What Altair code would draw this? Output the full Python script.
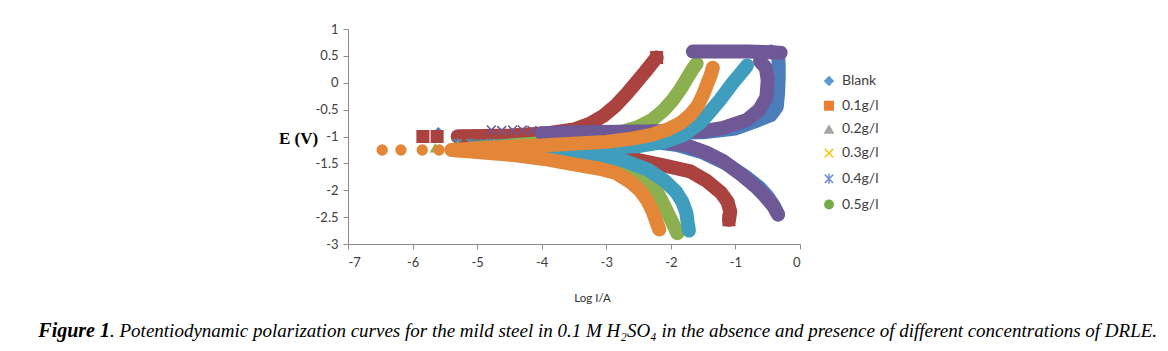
import altair as alt
import pandas as pd

# ---------------- data ----------------
LABELS = ["Blank", "0.1g/l", "0.2g/l", "0.3g/l", "0.4g/l", "0.5g/l"]
PLOT_COLORS = ["#4A7DB9", "#AA423F", "#8CB04F", "#6E5895", "#3F9EBE", "#E38638"]
LEG_COLORS = ["#5B9BD5", "#ED7D31", "#A5A5A5", "#FFC000", "#6F8FD8", "#70AD47"]

# Blank
BLANK_X = [-0.34, -0.4, -0.5, -0.62, -0.85, -1.15, -1.5, -1.9, -2.5, -3.2, -3.9, -4.6, -5.3,
           -4.6, -3.8, -3.0, -2.2, -1.5, -1.0, -0.7, -0.45, -0.36, -0.34, -0.33, -0.33, -0.34, -0.45]
BLANK_E = [-2.45, -2.3, -2.12, -1.96, -1.74, -1.5, -1.3, -1.16, -1.06, -1.01, -1.0, -1.0, -1.0,
           -1.0, -0.98, -0.95, -0.93, -0.92, -0.85, -0.72, -0.6, -0.45, -0.2, 0.1, 0.35, 0.52, 0.58]
BLANK_ISO_X = [-5.6]
BLANK_ISO_E = [-0.92]

# 0.1 g/l
C01_X = [-1.1, -1.08, -1.12, -1.22, -1.45, -1.7, -2.1, -2.5, -2.9, -3.2, -3.5, -3.9, -4.5, -5.3,
         -4.5, -3.9, -3.5, -3.25, -3.05, -2.85, -2.68, -2.52, -2.4, -2.3, -2.22]
C01_E = [-2.55, -2.4, -2.22, -2.05, -1.82, -1.65, -1.54, -1.44, -1.32, -1.2, -1.1, -1.03, -1.0, -1.0,
         -0.98, -0.94, -0.87, -0.76, -0.62, -0.42, -0.2, 0.03, 0.2, 0.35, 0.47]
C01_ISO_X = [-5.84, -5.62]
C01_ISO_E = [-1.0, -1.0]

# 0.2 g/l
C02_X = [-1.9, -1.97, -2.05, -2.13, -2.22, -2.35, -2.55, -2.85, -3.2, -3.7, -4.3, -5.0,
         -4.3, -3.7, -3.2, -2.8, -2.5, -2.3, -2.12, -1.97, -1.85, -1.75, -1.67, -1.6]
C02_E = [-2.8, -2.62, -2.42, -2.22, -2.02, -1.85, -1.7, -1.55, -1.42, -1.33, -1.27, -1.21,
         -1.15, -1.1, -1.03, -0.93, -0.82, -0.7, -0.52, -0.32, -0.12, 0.08, 0.24, 0.36]
C02_ISO_X = [-5.65]
C02_ISO_E = [-1.21]

# 0.3 g/l
C03_X = [-0.34, -0.41, -0.55, -0.68, -0.9, -1.2, -1.45, -1.75, -2.2, -2.8, -3.5, -4.0,
         -3.5, -2.8, -2.2, -1.8, -1.5, -1.19, -0.82, -0.63, -0.52, -0.5, -0.53, -0.62]
C03_E = [-2.45, -2.3, -2.1, -1.94, -1.72, -1.45, -1.3, -1.17, -1.08, -1.02, -0.97, -0.94,
         -0.92, -0.91, -0.9, -0.9, -0.9, -0.84, -0.69, -0.5, -0.27, 0.05, 0.28, 0.4]
C03_TOP_X = [-1.66, -1.4, -1.1, -0.8, -0.55, -0.3]
C03_TOP_E = [0.58, 0.58, 0.58, 0.58, 0.57, 0.56]
C03_ISO_X = [-4.78, -4.62, -4.45, -4.3, -4.15]
C03_ISO_E = [-0.88, -0.89, -0.88, -0.88, -0.89]

# 0.4 g/l
C04_X = [-1.72, -1.74, -1.76, -1.82, -1.92, -2.1, -2.35, -2.7, -3.1, -3.6, -4.3,
         -3.6, -3.0, -2.5, -2.1, -1.8, -1.55, -1.4, -1.24, -1.04, -0.9, -0.82]
C04_E = [-2.75, -2.6, -2.42, -2.22, -2.03, -1.82, -1.62, -1.46, -1.34, -1.27, -1.2,
         -1.2, -1.2, -1.18, -1.1, -0.97, -0.75, -0.55, -0.32, 0.0, 0.2, 0.32]
C04_ISO_X = [-5.3, -5.1, -4.95, -4.8, -4.65, -4.5]
C04_ISO_E = [-1.12, -1.12, -1.13, -1.12, -1.13, -1.13]

# 0.5 g/l
C05_X = [-2.18, -2.22, -2.28, -2.36, -2.48, -2.62, -2.85, -3.1, -3.5, -3.9, -4.4, -4.9, -5.4,
         -4.8, -4.2, -3.6, -3.0, -2.6, -2.3, -2.05, -1.85, -1.7, -1.58, -1.5, -1.43, -1.38, -1.35]
C05_E = [-2.73, -2.6, -2.4, -2.2, -2.0, -1.85, -1.68, -1.6, -1.52, -1.43, -1.35, -1.3, -1.25,
         -1.21, -1.18, -1.14, -1.1, -1.04, -0.97, -0.87, -0.75, -0.6, -0.42, -0.22, 0.0, 0.15, 0.28]
C05_ISO_X = [-6.47, -6.18, -5.85, -5.59]
C05_ISO_E = [-1.25, -1.25, -1.25, -1.25]

X_TICKS = [-7, -6, -5, -4, -3, -2, -1, 0]
Y_TICKS = [1, 0.5, 0, -0.5, -1, -1.5, -2, -2.5, -3]

CAPTION_BOLD = "Figure 1"
CAPTION_REST = (". Potentiodynamic polarization curves for the mild steel in 0.1 M H\u2082SO\u2084 "
                "in the absence and presence of different concentrations of DRLE.")

# ---------------- styles ----------------
X_SHAPE = "M-1,-1L1,1M-1,1L1,-1"
STAR_SHAPE = "M-1,-1L1,1M-1,1L1,-1M0,-1.2L0,1.2"
PLOT_SHAPES = ["diamond", "square", "triangle-up", X_SHAPE, STAR_SHAPE, "circle"]
FILLED = [True, True, True, False, False, True]
SIZES = [110, 170, 120, 80, 60, 130]
LEG_FILL = [LEG_COLORS[0], LEG_COLORS[1], LEG_COLORS[2], "transparent", "transparent", LEG_COLORS[5]]

SERIES = [
    ([(BLANK_X, BLANK_E)], (BLANK_ISO_X, BLANK_ISO_E)),
    ([(C01_X, C01_E)], (C01_ISO_X, C01_ISO_E)),
    ([(C02_X, C02_E)], (C02_ISO_X, C02_ISO_E)),
    ([(C03_X, C03_E), (C03_TOP_X, C03_TOP_E)], (C03_ISO_X, C03_ISO_E)),
    ([(C04_X, C04_E)], (C04_ISO_X, C04_ISO_E)),
    ([(C05_X, C05_E)], (C05_ISO_X, C05_ISO_E)),
]

AXIS_COLOR = "#8C8C8C"
LABEL_COLOR = "#404040"

X = alt.X("x:Q",
          scale=alt.Scale(domain=[-7, 0], nice=False, zero=False),
          axis=alt.Axis(values=X_TICKS, grid=False, domainColor=AXIS_COLOR, tickColor=AXIS_COLOR,
                        tickSize=5, labelPadding=7, labelFont="Lato", labelFontSize=13,
                        labelColor=LABEL_COLOR, labelExpr="datum.value + ''",
                        title="Log I/A", titleFont="Lato", titleFontSize=11.5,
                        titleFontWeight="normal", titleColor="#303030",
                        titleX=244, titleY=54, titleAlign="center", titleBaseline="middle"))
Y = alt.Y("e:Q",
          scale=alt.Scale(domain=[-3, 1], nice=False, zero=False),
          axis=alt.Axis(values=Y_TICKS, grid=False, domainColor=AXIS_COLOR, tickColor=AXIS_COLOR,
                        tickSize=5, labelPadding=5, labelFont="Lato", labelFontSize=13,
                        labelColor=LABEL_COLOR, labelExpr="datum.value + ''",
                        title="E (V)", titleFont="Liberation Serif", titleFontSize=17,
                        titleFontWeight="bold", titleColor="#000000", titleAngle=0,
                        titleX=-50, titleY=109, titleAlign="center", titleBaseline="middle"))

layers = []
for i, (segs, iso) in enumerate(SERIES):
    rows = []
    ends = []
    for si, (xs, es) in enumerate(segs):
        for k, (xv, ev) in enumerate(zip(xs, es)):
            rows.append({"x": xv, "e": ev, "seg": si, "k": k})
        ends.append({"x": xs[0], "e": es[0]})
        ends.append({"x": xs[-1], "e": es[-1]})
    path_df = pd.DataFrame(rows)
    pts_rows = ends + [{"x": xv, "e": ev} for xv, ev in zip(iso[0], iso[1])]
    pts_df = pd.DataFrame(pts_rows)
    c = PLOT_COLORS[i]
    line = alt.Chart(path_df).mark_line(
        color=c, strokeWidth=14, strokeCap="round", strokeJoin="round"
    ).encode(x=X, y=Y, detail="seg:N", order="k:Q")
    if FILLED[i]:
        pts = alt.Chart(pts_df).mark_point(
            shape=PLOT_SHAPES[i], filled=True, color=c, opacity=1, size=SIZES[i], strokeWidth=0
        ).encode(x=X, y=Y)
    else:
        pts = alt.Chart(pts_df).mark_point(
            shape=PLOT_SHAPES[i], filled=False, color=c, opacity=1, size=SIZES[i], strokeWidth=1.5
        ).encode(x=X, y=Y)
    layers += [line, pts]

leg = alt.Legend(title=None, orient="none", legendX=474, legendY=45, symbolSize=70,
                 symbolStrokeWidth=1.5, symbolOpacity=1, labelFont="Lato", labelFontSize=14,
                 labelColor=LABEL_COLOR, rowPadding=8.7, labelOffset=6, padding=0)
legend_layer = alt.Chart(pd.DataFrame({"series": LABELS})).transform_filter("false").mark_point().encode(
    fill=alt.Fill("series:N", scale=alt.Scale(domain=LABELS, range=LEG_FILL), legend=leg),
    stroke=alt.Stroke("series:N", scale=alt.Scale(domain=LABELS, range=LEG_COLORS), legend=leg),
    shape=alt.Shape("series:N", scale=alt.Scale(domain=LABELS, range=PLOT_SHAPES), legend=leg),
)

cap1 = alt.Chart(pd.DataFrame({"t": [CAPTION_BOLD]})).mark_text(
    align="right", baseline="middle", font="Liberation Serif", fontSize=20,
    fontStyle="italic", fontWeight="bold", color="#000000"
).encode(x=alt.value(110 - 348), y=alt.value(331 - 29), text="t:N")
cap2 = alt.Chart(pd.DataFrame({"t": [CAPTION_REST]})).mark_text(
    align="left", baseline="middle", font="Liberation Serif", fontSize=19,
    fontStyle="italic", fontWeight="normal", color="#000000"
).encode(x=alt.value(110 - 348), y=alt.value(331 - 29), text="t:N")

chart = alt.layer(*layers, legend_layer, cap1, cap2).properties(
    width=452, height=215,
    padding={"left": 348, "top": 29, "right": 368, "bottom": 107},
    autosize=alt.AutoSizeParams(type="none"),
).configure_view(stroke=None)

chart.save("out.html", embed_options={"renderer": "svg", "actions": False})
